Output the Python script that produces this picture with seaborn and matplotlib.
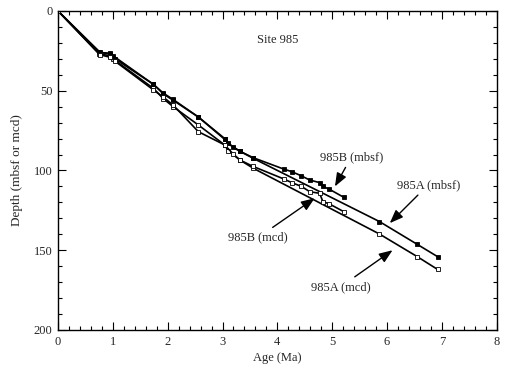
import matplotlib
matplotlib.use("Agg")
import matplotlib.pyplot as plt
import seaborn as sns
import pandas as pd
from matplotlib.ticker import MultipleLocator

sns.set_style("ticks")
plt.rcParams['font.family'] = ['Liberation Serif', 'DejaVu Serif']

# ---- data ----
age_A = [0, 0.75, 0.95, 1.0, 1.74, 1.92, 2.10, 2.56, 3.04, 3.10, 3.32, 3.56, 5.86, 6.55, 6.92]
depth_A_mbsf = [0, 26, 26.5, 28, 46, 52, 56, 66.5, 80, 83, 88, 92.4, 132, 146.3, 154]
depth_A_mcd = [0, 27, 28, 30, 48.5, 55, 60, 71.5, 84, 87.5, 93.5, 98.6, 139.8, 154, 162]

age_B = [0, 0.77, 0.95, 1.04, 1.74, 1.92, 2.10, 2.56, 3.04, 3.19, 3.32, 3.56,
         4.13, 4.26, 4.44, 4.59, 4.77, 4.83, 4.95, 5.21]
depth_B_mbsf = [0, 26, 27, 30, 46, 51.5, 55.5, 66.5, 80.5, 85.5, 88, 92,
                99.3, 100.7, 103.4, 106, 107.6, 110, 111.8, 116.8]
depth_B_mcd = [0, 27.5, 29, 31.5, 49.5, 54, 59, 75.7, 84, 89.5, 93.5, 97.5,
               105.5, 107.6, 110, 113.3, 114.3, 119.5, 121, 125.8]

labels = ["985A (mbsf)", "985A (mcd)", "985B (mbsf)", "985B (mcd)"]

fig = plt.figure(figsize=(5.10, 3.78), dpi=100)
ax = fig.add_axes([0.1137, 0.127, 0.8603, 0.844])

series = [
    (age_A, depth_A_mbsf, "black"),
    (age_A, depth_A_mcd, "white"),
    (age_B, depth_B_mbsf, "black"),
    (age_B, depth_B_mcd, "white"),
]
for (x, y, fc), lab in zip(series, labels):
    df = pd.DataFrame({"age": x, "depth": y})
    sns.lineplot(data=df, x="age", y="depth", ax=ax, color="black", lw=1.2,
                 marker="s", markersize=2.5, markerfacecolor=fc,
                 markeredgecolor="black", markeredgewidth=0.6,
                 estimator=None, sort=False, legend=False)

ax.set_xlim(0, 8)
ax.set_ylim(200, 0)
ax.xaxis.set_major_locator(MultipleLocator(1))
ax.xaxis.set_minor_locator(MultipleLocator(0.2))
ax.yaxis.set_major_locator(MultipleLocator(50))
ax.yaxis.set_minor_locator(MultipleLocator(10))
ax.tick_params(which="both", direction="in", top=True, right=True,
               labelsize=9, color="black", width=0.8, pad=4)
ax.tick_params(which="major", length=6)
ax.tick_params(which="minor", length=3)
for s in ax.spines.values():
    s.set_linewidth(1.0)
    s.set_color("black")

ax.set_xlabel("Age (Ma)", fontsize=9, labelpad=3)
ax.set_ylabel("Depth (mbsf or mcd)", fontsize=9.5, labelpad=8)

ax.text(4.0, 18.5, "Site 985", fontsize=9, ha="center", va="center")

ap = dict(arrowstyle="-|>,head_length=0.9,head_width=0.35", color="black", lw=1.0,
          shrinkA=1, shrinkB=0)
ax.annotate("985B (mbsf)", xy=(5.05, 110), xytext=(5.35, 91.5),
            fontsize=9, ha="center", va="center", arrowprops=ap)
ax.annotate("985A (mbsf)", xy=(6.05, 133), xytext=(6.75, 109),
            fontsize=9, ha="center", va="center", arrowprops=ap)
ax.annotate("985B (mcd)", xy=(4.68, 117.4), xytext=(3.65, 142),
            fontsize=9, ha="center", va="center", arrowprops=ap)
ax.annotate("985A (mcd)", xy=(6.1, 150), xytext=(5.15, 173),
            fontsize=9, ha="center", va="center", arrowprops=ap)

fig.savefig("out.png", dpi=100)
